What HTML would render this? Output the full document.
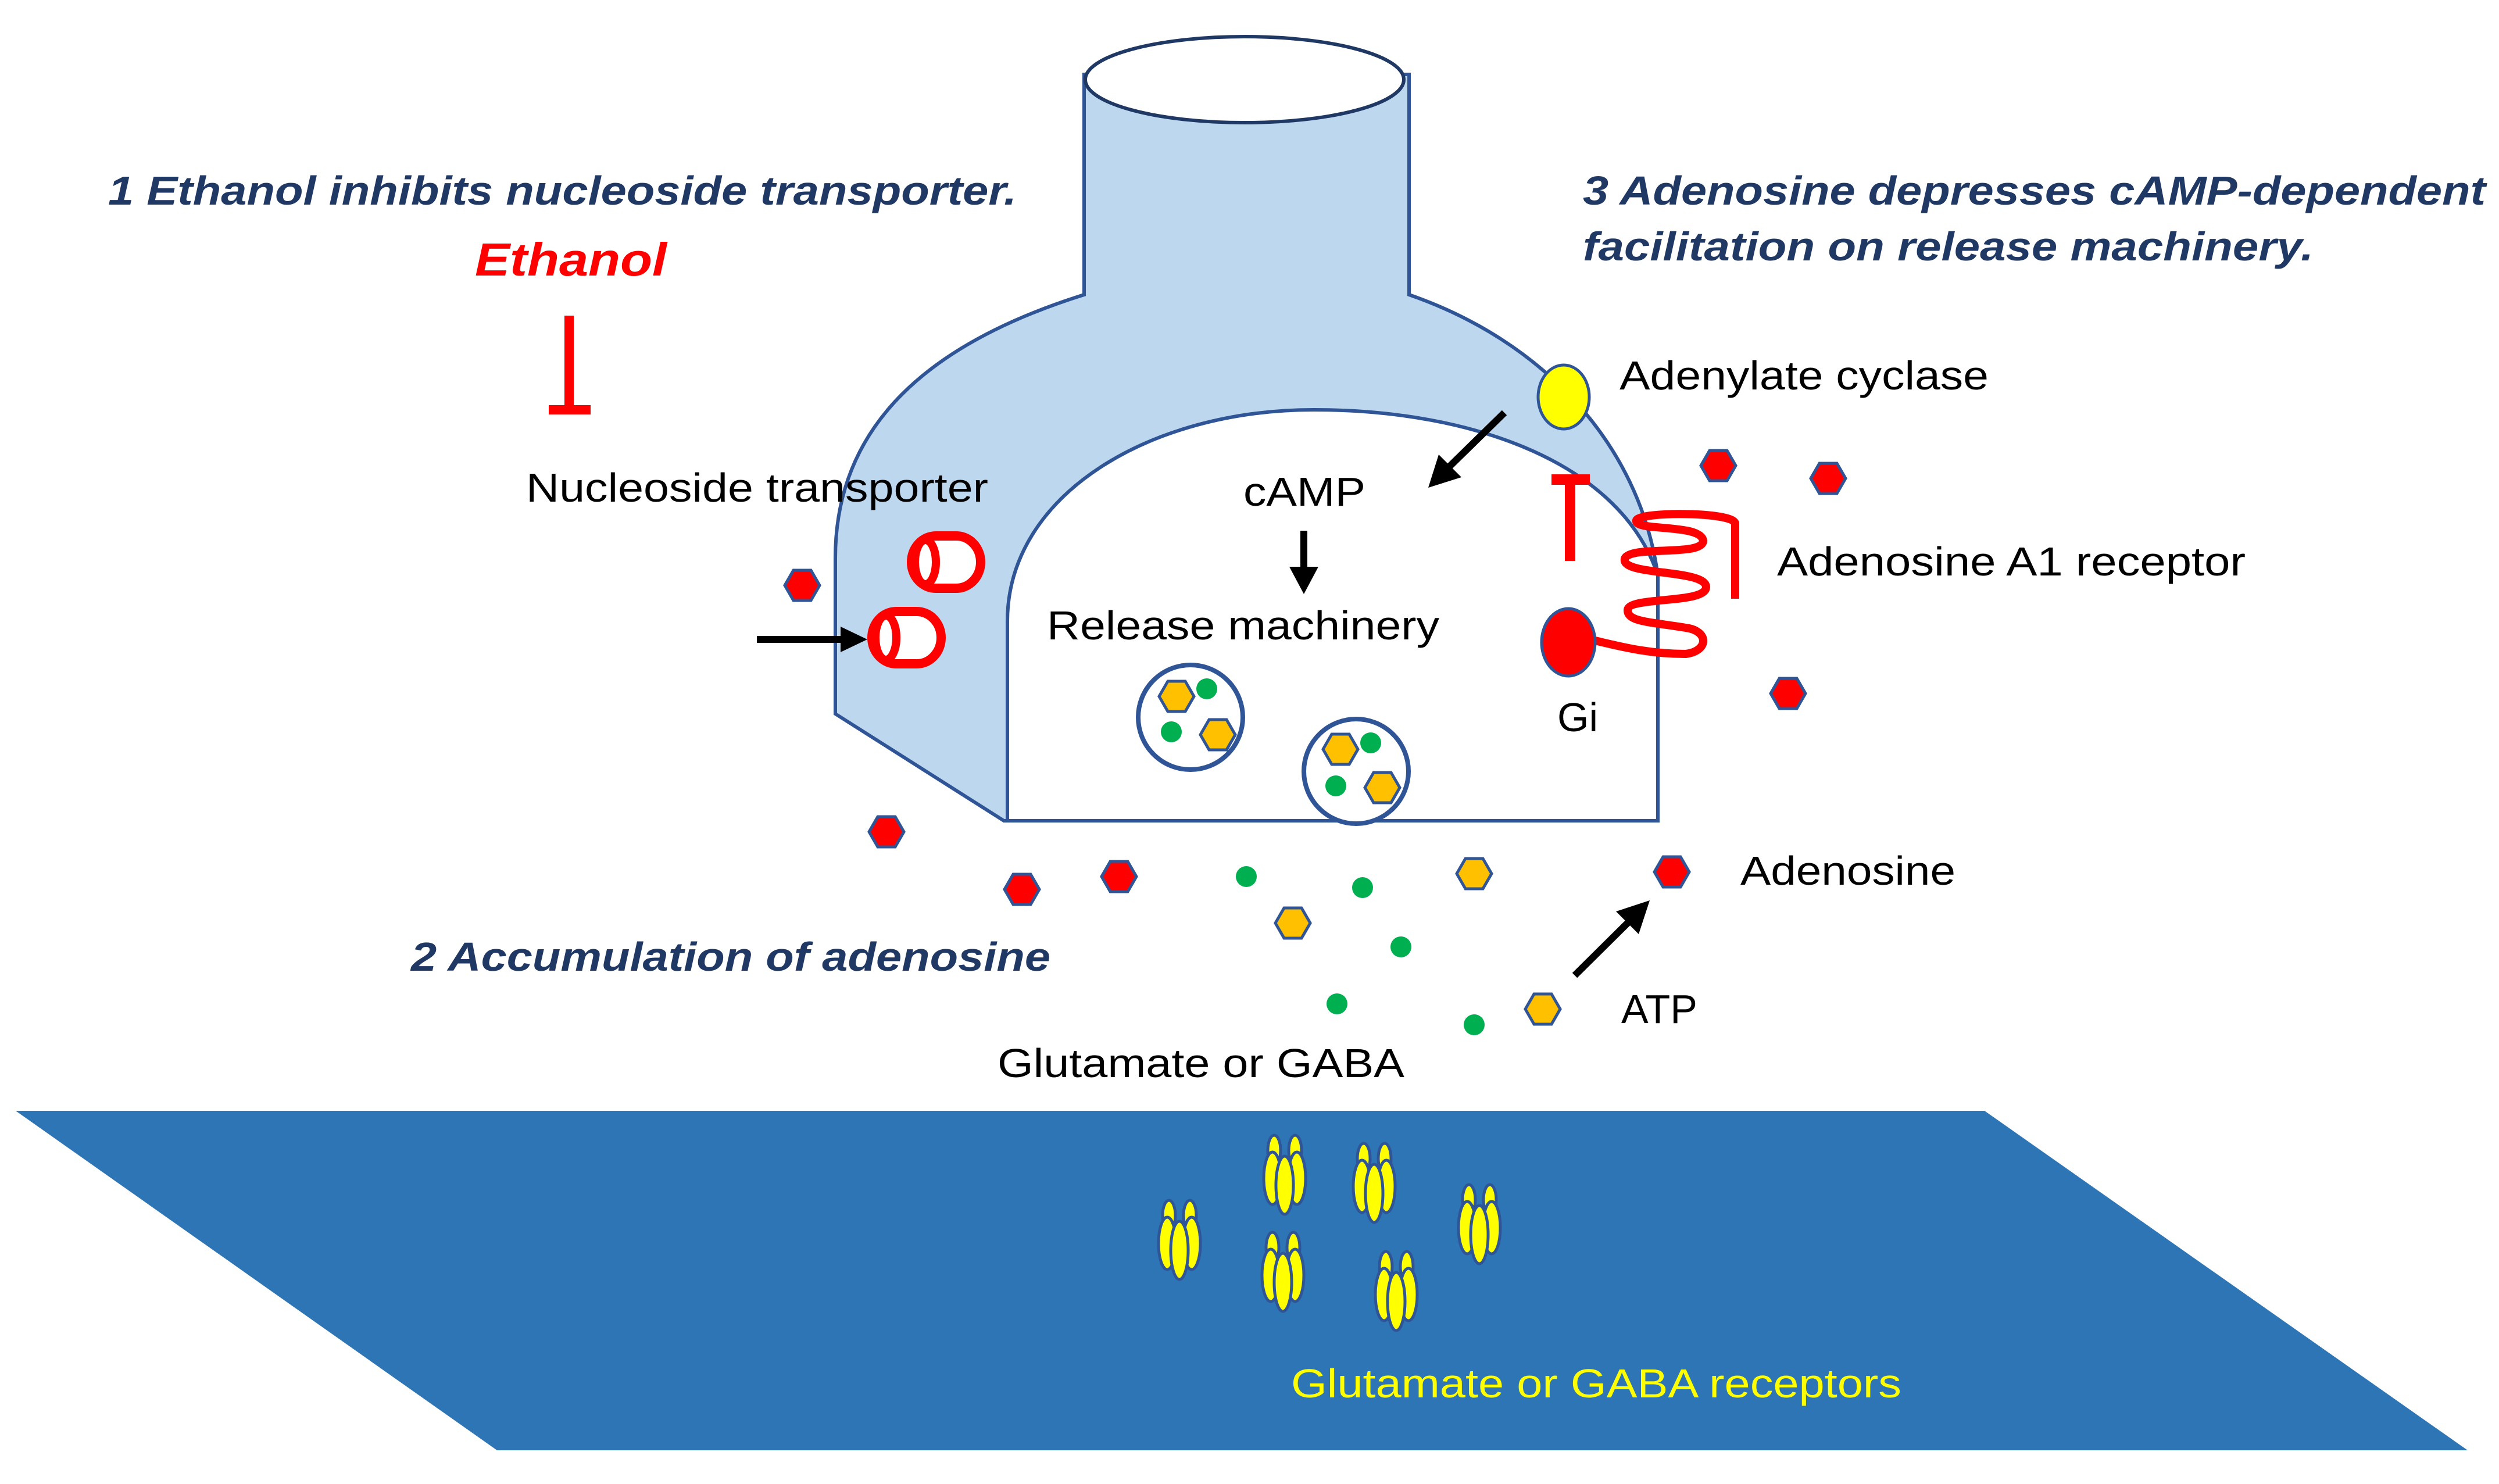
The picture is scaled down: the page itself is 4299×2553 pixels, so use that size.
<!DOCTYPE html>
<html><head><meta charset="utf-8"><style>html,body{margin:0;padding:0;background:#fff}svg{display:block}</style></head>
<body>
<svg xmlns="http://www.w3.org/2000/svg" width="4299" height="2553" viewBox="0 0 4299 2553" font-family="Liberation Sans, Arial, sans-serif">
<defs>
<g id="hr"><polygon points="-30,0 -15,-26 15,-26 30,0 15,26 -15,26" fill="#f00" stroke="#2F5597" stroke-width="5"/></g>
<g id="ho"><polygon points="-30,0 -15,-26 15,-26 30,0 15,26 -15,26" fill="#FFC000" stroke="#2F5597" stroke-width="5"/></g>
<g id="cyl">
<rect x="0" y="0" width="119" height="90" rx="42" ry="45" fill="#fff" stroke="#f00" stroke-width="16"/>
<ellipse cx="24" cy="45" rx="18" ry="38" fill="#fff" stroke="#f00" stroke-width="14"/>
</g>
<g id="rec" stroke="#2F5597" stroke-width="5" fill="#ff0">
<ellipse cx="-18" cy="-42" rx="11" ry="26"/>
<ellipse cx="18" cy="-42" rx="11" ry="26"/>
<ellipse cx="-21" cy="6" rx="15" ry="45"/>
<ellipse cx="21" cy="6" rx="15" ry="45"/>
<ellipse cx="0" cy="18" rx="15" ry="50"/>
</g>
</defs>
<!-- postsynaptic plane -->
<polygon points="27,1911 3414,1911 4245,2495 855,2495" fill="#2E75B6"/>
<!-- terminal -->
<path d="M1865,128 L1865,507 C1600,590 1437,730 1437,960 L1437,1228 L1727,1412 L2852,1412 L2852,990 C2820,760 2650,585 2424,507 L2424,128 Z" fill="#BDD7EE" stroke="#2F5597" stroke-width="6"/>
<path d="M1733,1412 L1733,1069 C1733,850 1980,705 2260,705 C2540,705 2790,800 2852,990 L2852,1412 Z" fill="#fff" stroke="#2F5597" stroke-width="6"/>
<ellipse cx="2141" cy="137" rx="274" ry="74" fill="#fff" stroke="#1F3864" stroke-width="6"/>
<!-- text headings -->
<g font-weight="bold" font-style="italic" fill="#1F3864" font-size="70">
<text x="186" y="352" textLength="1563" lengthAdjust="spacingAndGlyphs">1 Ethanol inhibits nucleoside transporter.</text>
<text x="2723" y="352" textLength="1553" lengthAdjust="spacingAndGlyphs">3 Adenosine depresses cAMP-dependent</text>
<text x="2723" y="448" textLength="1257" lengthAdjust="spacingAndGlyphs">facilitation on release machinery.</text>
<text x="707" y="1670" textLength="1100" lengthAdjust="spacingAndGlyphs">2 Accumulation of adenosine</text>
</g>
<text x="817" y="474" font-size="80" font-weight="bold" font-style="italic" fill="#f00" textLength="330" lengthAdjust="spacingAndGlyphs">Ethanol</text>
<line x1="979" y1="543" x2="979" y2="707" stroke="#f00" stroke-width="16"/>
<line x1="944" y1="705" x2="1016" y2="705" stroke="#f00" stroke-width="16"/>
<g font-size="70" fill="#000">
<text x="905" y="863" textLength="795" lengthAdjust="spacingAndGlyphs">Nucleoside transporter</text>
<text x="2786" y="670" textLength="635" lengthAdjust="spacingAndGlyphs">Adenylate cyclase</text>
<text x="2139" y="870" textLength="210" lengthAdjust="spacingAndGlyphs">cAMP</text>
<text x="1801" y="1100" textLength="675" lengthAdjust="spacingAndGlyphs">Release machinery</text>
<text x="2679" y="1258">Gi</text>
<text x="3057" y="990" textLength="806" lengthAdjust="spacingAndGlyphs">Adenosine A1 receptor</text>
<text x="2994" y="1522" textLength="370" lengthAdjust="spacingAndGlyphs">Adenosine</text>
<text x="2789" y="1760">ATP</text>
<text x="1716" y="1853" textLength="700" lengthAdjust="spacingAndGlyphs">Glutamate or GABA</text>
</g>
<text x="2221" y="2404" font-size="70" fill="#ff0" textLength="1050" lengthAdjust="spacingAndGlyphs">Glutamate or GABA receptors</text>
<!-- arrows -->
<g stroke="#000" stroke-width="12">
<line x1="2588" y1="710" x2="2490" y2="806"/>
<line x1="2243" y1="913" x2="2243" y2="985"/>
<line x1="1302" y1="1100" x2="1450" y2="1100"/>
<line x1="2709" y1="1678" x2="2808" y2="1580"/>
</g>
<polygon points="2457,839 2475,782 2514,821" fill="#000"/>
<polygon points="2243,1022 2218,975 2268,975" fill="#000"/>
<polygon points="1492,1100 1446,1078 1446,1122" fill="#000"/>
<polygon points="2838,1549 2780,1568 2819,1607" fill="#000"/>
<ellipse cx="2690" cy="683" rx="44" ry="55" fill="#ff0" stroke="#2F5597" stroke-width="5"/>
<line x1="2701" y1="817" x2="2701" y2="965" stroke="#f00" stroke-width="18"/>
<line x1="2669" y1="825" x2="2735" y2="825" stroke="#f00" stroke-width="18"/>
<path d="M2735,1100 C2780,1110 2830,1125 2900,1125 C2940,1120 2940,1085 2900,1080 C2840,1070 2800,1070 2800,1050 C2800,1025 2935,1040 2935,1010 C2935,980 2800,990 2795,965 C2790,935 2930,960 2930,930 C2925,900 2810,915 2815,895 C2820,880 2980,880 2985,900 L2985,1030" fill="none" stroke="#f00" stroke-width="14" stroke-linejoin="round"/>
<ellipse cx="2698" cy="1105" rx="46" ry="58" fill="#f00" stroke="#2F5597" stroke-width="5"/>
<use href="#cyl" x="1568" y="922"/>
<use href="#cyl" x="1500" y="1052"/>
<circle cx="2048" cy="1234" r="90" fill="#fff" stroke="#2F5597" stroke-width="8"/>
<circle cx="2333" cy="1327" r="90" fill="#fff" stroke="#2F5597" stroke-width="8"/>
<use href="#hr" x="1380" y="1007"/>
<use href="#hr" x="2956" y="801"/>
<use href="#hr" x="3145" y="823"/>
<use href="#hr" x="3076" y="1193"/>
<use href="#hr" x="1525" y="1431"/>
<use href="#hr" x="1758" y="1530"/>
<use href="#hr" x="1925" y="1508"/>
<use href="#hr" x="2876" y="1500"/>
<use href="#ho" x="2224" y="1588"/>
<use href="#ho" x="2536" y="1503"/>
<use href="#ho" x="2654" y="1736"/>
<use href="#ho" x="2024" y="1198"/>
<use href="#ho" x="2095" y="1264"/>
<use href="#ho" x="2306" y="1289"/>
<use href="#ho" x="2378" y="1355"/>
<g fill="#00B050">
<circle cx="2144" cy="1508" r="18"/>
<circle cx="2344" cy="1527" r="18"/>
<circle cx="2410" cy="1629" r="18"/>
<circle cx="2300" cy="1727" r="18"/>
<circle cx="2536" cy="1763" r="18"/>
<circle cx="2076" cy="1185" r="18"/>
<circle cx="2015" cy="1259" r="18"/>
<circle cx="2358" cy="1278" r="18"/>
<circle cx="2298" cy="1352" r="18"/>
</g>
<use href="#rec" x="2029" y="2133"/>
<use href="#rec" x="2210" y="2021"/>
<use href="#rec" x="2364" y="2035"/>
<use href="#rec" x="2207" y="2188"/>
<use href="#rec" x="2402" y="2221"/>
<use href="#rec" x="2545" y="2106"/>
</svg>
</body></html>
